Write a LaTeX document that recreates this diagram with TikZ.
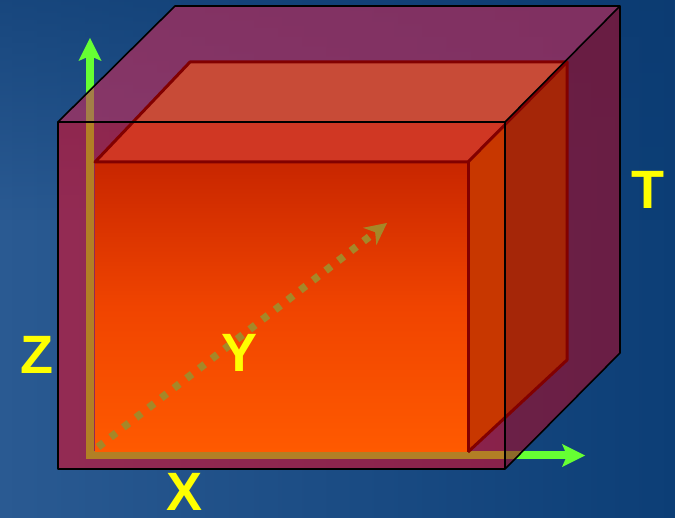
\documentclass[tikz,border=0pt]{standalone}
\usepackage{fontspec}
\setmainfont{Liberation Sans}
\usetikzlibrary{arrows.meta,fadings}
\definecolor{bgL}{RGB}{42,90,146}
\definecolor{bgR}{RGB}{12,62,118}
\definecolor{bgTop}{RGB}{12,58,112}
\definecolor{axgreen}{RGB}{102,255,51}
\definecolor{frontov}{RGB}{255,0,25}
\definecolor{topov}{RGB}{205,40,85}
\definecolor{rightov}{RGB}{167,8,35}
\definecolor{boxtop}{RGB}{200,38,0}
\definecolor{boxmid}{RGB}{240,68,0}
\definecolor{boxbot}{RGB}{255,90,0}
\definecolor{itopA}{RGB}{200,75,55}
\definecolor{itopB}{RGB}{208,55,35}
\definecolor{irightA}{RGB}{200,55,0}
\definecolor{irightB}{RGB}{165,38,8}
\definecolor{edgered}{RGB}{130,0,0}
\definecolor{ydotc}{RGB}{165,135,40}
\definecolor{labc}{RGB}{255,255,0}
\begin{document}
\begin{tikzpicture}[x=1pt,y=-1pt,
  axisarrow/.style={line width=8pt, draw=axgreen,
    -{Stealth[length=23pt,width=23pt,inset=5pt,line width=0pt]}},
  ydotted/.style={line width=7.5pt, draw=ydotc, dash pattern=on 7pt off 9pt,
    -{Stealth[length=22pt,width=22pt,inset=7pt,line width=0pt]}},
  outeredge/.style={draw=black, line width=1.6pt, line join=round},
  inneredge/.style={draw=edgered, line width=3pt, line join=round},
  axlabel/.style={text=labc, inner sep=0pt, font=\fontsize{54}{54}\selectfont\bfseries}]
\useasboundingbox (0,0) rectangle (675,518);
% background
\shade[left color=bgL, right color=bgR] (0,0) rectangle (675,518);
\fill[bgTop, opacity=0.6, path fading=south] (0,0) rectangle (675,220);
% coordinates
\coordinate (A) at (58,122);  \coordinate (B) at (505,122);
\coordinate (C) at (505,469); \coordinate (D) at (58,469);
\coordinate (E) at (175,6);   \coordinate (F) at (620,6);
\coordinate (G) at (620,353);
\coordinate (a) at (95,162);  \coordinate (b) at (468,162);
\coordinate (c) at (468,452); \coordinate (d) at (95,452);
\coordinate (e) at (190,62);  \coordinate (f) at (567,62);
\coordinate (g) at (567,360);
\coordinate (Zs) at (90,459); \coordinate (Zt) at (90,38);
\coordinate (Xs) at (86,455.5); \coordinate (Xt) at (585,455.5);
\coordinate (Ys) at (98,447); \coordinate (Yt) at (387,223);
% green axes
\draw[axisarrow] (Zs) -- (Zt);
\draw[axisarrow] (Xs) -- (Xt);
% translucent outer cube faces
\fill[frontov, opacity=0.5] (A) -- (B) -- (C) -- (D) -- cycle;
\fill[topov, opacity=0.6] (A) -- (E) -- (F) -- (B) -- cycle;
\fill[rightov, opacity=0.6] (B) -- (F) -- (G) -- (C) -- cycle;
% inner box: front face
\shade[top color=boxtop, bottom color=boxbot, middle color=boxmid] (a) rectangle (c);
% inner box: top face (upper part under outer top, lower under outer front)
\fill[itopA] (a) -- (e) -- (f) -- (b) -- cycle;
\begin{scope}
  \clip (A) rectangle (C);
  \fill[itopB] (a) -- (e) -- (f) -- (b) -- cycle;
\end{scope}
% inner box: right face
\fill[irightB] (b) -- (f) -- (g) -- (c) -- cycle;
\begin{scope}
  \clip (A) rectangle (C);
  \fill[irightA] (b) -- (f) -- (g) -- (c) -- cycle;
\end{scope}
% inner edges
\draw[inneredge] (a) -- (e) -- (f) -- (b) -- cycle;
\draw[inneredge] (b) -- (c);
\draw[inneredge] (f) -- (g) -- (c);
% Y dotted axis
\draw[ydotted] (Ys) -- (Yt);
% outer edges
\draw[outeredge] (A) -- (B) -- (C) -- (D) -- cycle;
\draw[outeredge] (A) -- (E) -- (F) -- (G) -- (C);
\draw[outeredge] (B) -- (F);
% labels
\node[axlabel] (lz) at (37,355) {Z};
\node[axlabel] (ly) at (240,353) {Y};
\node[axlabel] (lx) at (185,492) {X};
\node[axlabel] (lt) at (648,190) {T};
\end{tikzpicture}
\end{document}
